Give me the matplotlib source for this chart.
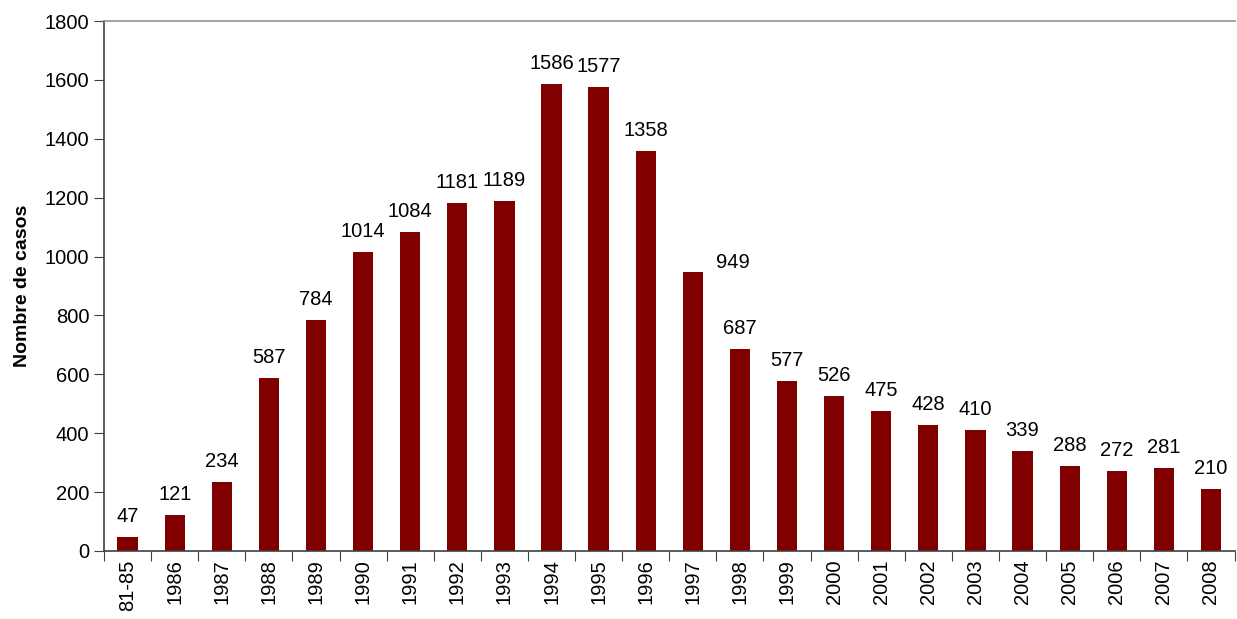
import matplotlib
matplotlib.use('Agg')
import matplotlib.pyplot as plt
import numpy as np

plt.rcParams['font.family'] = ['Liberation Sans', 'DejaVu Sans']

categories = ['81-85', '1986', '1987', '1988', '1989', '1990', '1991', '1992',
              '1993', '1994', '1995', '1996', '1997', '1998', '1999', '2000',
              '2001', '2002', '2003', '2004', '2005', '2006', '2007', '2008']
casos = [47, 121, 234, 587, 784, 1014, 1084, 1181, 1189, 1586, 1577, 1358,
         949, 687, 577, 526, 475, 428, 410, 339, 288, 272, 281, 210]

fig = plt.figure(figsize=(12.37, 6.19), dpi=100)
ax = fig.add_axes([0.0841, 0.110, 0.9139, 0.856])

x = np.arange(len(categories))
ax.bar(x, casos, width=0.43, color='#800000')

for i, v in enumerate(casos):
    if categories[i] == '1997':
        # this label sits off to the right in the original
        ax.annotate(str(v), (i, v), xytext=(29, 0), textcoords='offset points',
                    ha='center', va='bottom', fontsize=14.5)
    else:
        ax.annotate(str(v), (i, v), xytext=(0, 8), textcoords='offset points',
                    ha='center', va='bottom', fontsize=14.5)

ax.set_xlim(-0.5, len(categories) - 0.5)
ax.set_ylim(0, 1800)
ax.set_yticks(np.arange(0, 1801, 200))
ax.tick_params(axis='y', labelsize=14.5, length=7, direction='out', color='#404040')

# ticks between categories, labels at centres
ax.set_xticks(np.arange(-0.5, len(categories) + 0.5, 1))
ax.set_xticklabels([])
ax.set_xticks(x, minor=True)
ax.set_xticklabels(categories, minor=True, rotation=90, fontsize=14.5)
ax.tick_params(axis='x', which='major', length=7, color='#404040')
ax.tick_params(axis='x', which='minor', length=0, pad=6)

ax.set_ylabel('Nombre de casos', fontsize=14, fontweight='bold', labelpad=10)

ax.spines['right'].set_visible(False)
ax.spines['top'].set_color('#909090')
ax.spines['left'].set_color('#404040')
ax.spines['bottom'].set_color('#404040')
for s in ax.spines.values():
    s.set_linewidth(1.2)

fig.savefig('out.png', dpi=100)
